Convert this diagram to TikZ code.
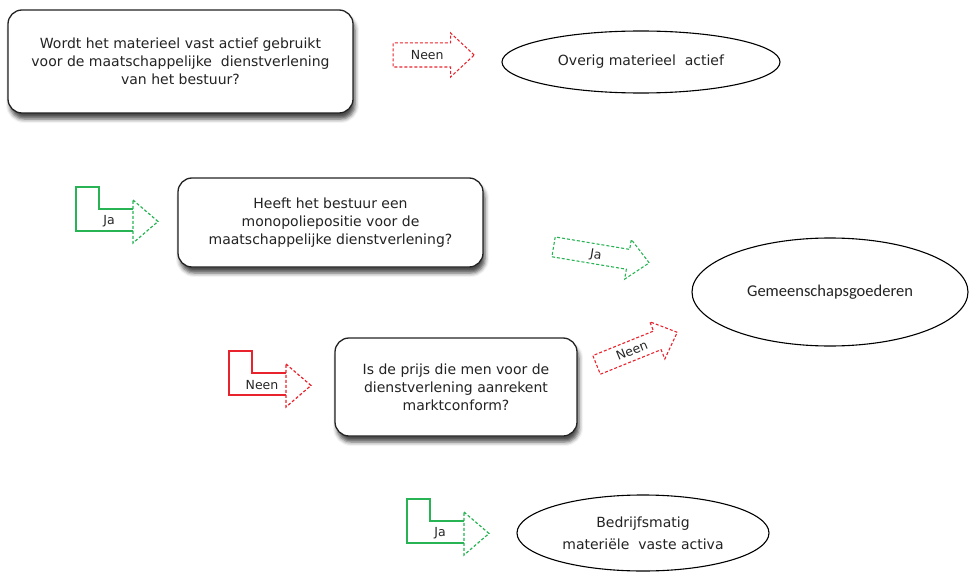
\documentclass[tikz,border=0pt]{standalone}
\usepackage{fontspec}
\setmainfont{DejaVu Sans}
\newfontfamily\calibrifont{Carlito}
\usepackage{tikz}
\usetikzlibrary{shapes.geometric,shapes.arrows,shadows.blur,positioning}

\definecolor{jagroen}{RGB}{40,180,85}
\definecolor{neenrood}{RGB}{232,35,45}
\definecolor{rand}{RGB}{35,35,35}

% bent block arrow: solid body, dashed head
\tikzset{
  pics/bocht/.style 2 args={code={
    \draw[#2,line width=1.2pt,line join=miter] (57,22) -- (23,22) -- (23,0) -- (0,0) -- (0,44) -- (57,44);
    \draw[#2,line width=1.2pt,densely dashed] (57,13) -- (82,34.5) -- (57,56) -- cycle;
    \node[pijltekst] (-tekst) at (33,34) {#1};
  }}
}

\begin{document}
\begin{tikzpicture}[x=1pt,y=-1pt,
    every node/.style={font=\fontsize{14}{18}\selectfont,text=rand,align=center},
    vraag/.style={draw=rand,line width=1.3pt,rounded corners=14pt,fill=white,inner sep=0pt,
      blur shadow={shadow xshift=2pt,shadow yshift=-6pt,shadow blur radius=4pt,shadow opacity=70}},
    uitkomst/.style={ellipse,draw=black,line width=1.1pt,inner sep=0pt},
    pijltekst/.style={font=\fontsize{12.5}{14}\selectfont,text=black!85},
    pijl/.style={single arrow,draw=#1,densely dashed,line width=1.1pt,
      single arrow head extend=10pt,single arrow tip angle=86,
      inner xsep=2pt,inner ysep=7pt,text height=9pt,text depth=0pt,
      font=\fontsize{12.5}{14}\selectfont,text=black!85}]
  \useasboundingbox (0,0) rectangle (969,575);

  % first question
  \node[vraag,minimum width=345pt,minimum height=103pt] (vraag1) at (180.5,61.5)
    {Wordt het materieel vast actief gebruikt\\voor de maatschappelijke\ \ dienstverlening\\van het bestuur?};
  \node[pijl=neenrood,minimum height=81pt,anchor=tip] (neen1) at (475,55) {Neen};
  \node[uitkomst,minimum width=278pt,minimum height=62pt] (overig) at (641,62) {Overig materieel\ \ actief};

  % second question
  \pic (ja1) at (76,187) {bocht={Ja}{jagroen}};
  \node[vraag,minimum width=305pt,minimum height=89pt] (vraag2) at (330.5,222.5)
    {Heeft het bestuur een\\monopoliepositie voor de\\maatschappelijke dienstverlening?};
  \node[pijl=jagroen,minimum height=97pt,rotate=-9.5,anchor=tip,inner ysep=5pt] (ja2) at (650,263) {Ja};
  \node[uitkomst,minimum width=276pt,minimum height=108pt,
    font=\calibrifont\fontsize{16.5}{20}\selectfont] (gemeen) at (830,292) {Gemeenschapsgoederen};

  % third question
  \pic (neen2) at (229,351) {bocht={Neen}{neenrood}};
  \node[vraag,minimum width=242pt,minimum height=98pt] (vraag3) at (456,387)
    {Is de prijs die men voor de\\dienstverlening aanrekent\\marktconform?};
  \node[pijl=neenrood,minimum height=87pt,rotate=22,anchor=tip,inner ysep=5pt] (neen3) at (678,332) {Neen};

  % last outcome
  \pic (ja3) at (407,499) {bocht={Ja}{jagroen}};
  \node[uitkomst,minimum width=252pt,minimum height=76pt,
    font=\fontsize{14}{22}\selectfont] (bedrijf) at (643,533) {Bedrijfsmatig\\materiële\ \ vaste activa};
\end{tikzpicture}
\end{document}
